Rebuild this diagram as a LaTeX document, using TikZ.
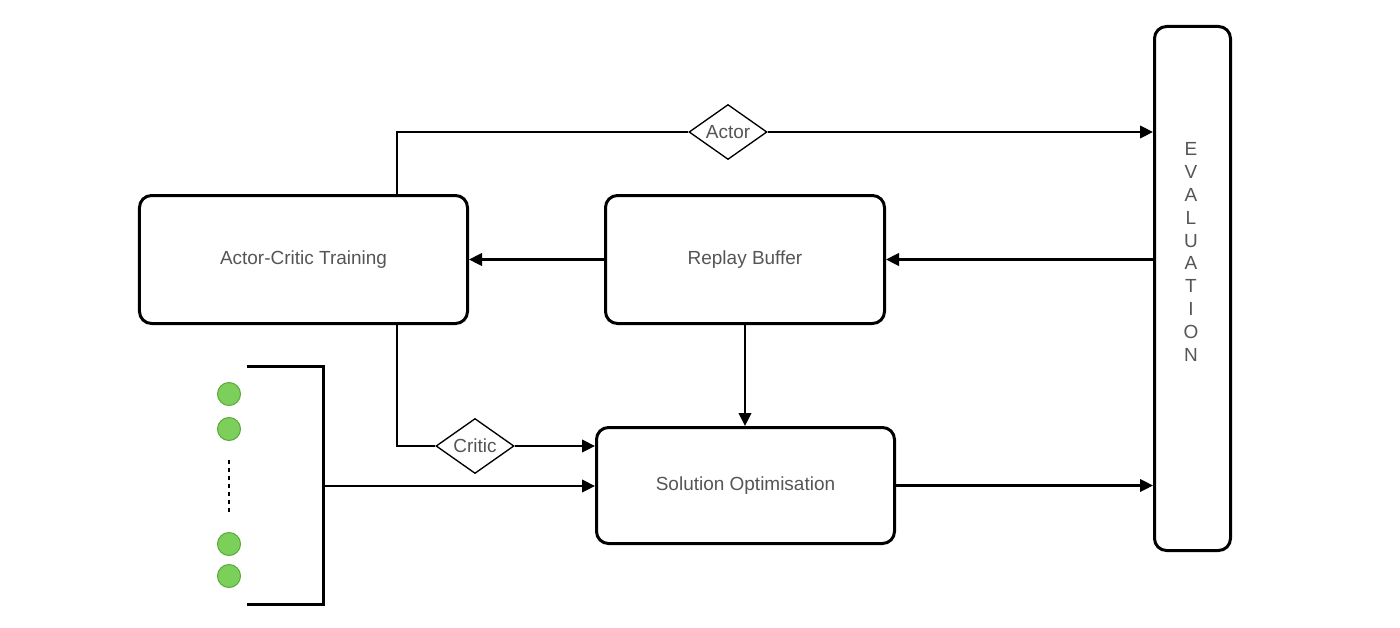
\documentclass[tikz,border=0pt]{standalone}
\usepackage{fontspec}
\setmainfont{Liberation Sans}
\usepackage{xcolor}
\usetikzlibrary{arrows.meta,shapes.geometric}
\definecolor{txtgray}{HTML}{555555}
\definecolor{dotfill}{HTML}{7CCF5A}
\definecolor{dotline}{HTML}{5BA83A}
\tikzset{>={Triangle[length=2.6mm,width=2.5mm]}}
\tikzset{
  block/.style={draw,line width=0.6mm,rounded corners=2.4mm,text=txtgray,
    font=\fontsize{10.8}{13}\selectfont},
  gate/.style={draw,diamond,line width=0.27mm,inner sep=0pt,aspect=1.4,
    minimum width=15.6mm,minimum height=11mm,text=txtgray,fill=white,
    font=\fontsize{10.8}{13}\selectfont},
  flow/.style={line width=0.5mm},
  agent/.style={circle,draw=dotline,fill=dotfill,line width=0.2mm,
    minimum size=4.6mm,inner sep=0pt}
}

\begin{document}
\begin{tikzpicture}[x=0.2mm,y=-0.2mm]
      \useasboundingbox (0,0) rectangle (1400,627);
      % boxes
      \node[block,minimum width=65.6mm,minimum height=25.6mm] at (303.5,259.5) (train) {Actor-Critic Training};
      \node[block,minimum width=55.8mm,minimum height=25.6mm] at (745,259.5) (buffer) {Replay Buffer};
      \node[block,minimum width=59.6mm,minimum height=23.2mm] at (745.5,485.5) (solution) {Solution Optimisation};
      \node[block,minimum width=15.2mm,minimum height=104.8mm] at (1192.5,288.5) (eval) {};
      \node[text=txtgray,align=center,font=\fontsize{10.8}{13}\selectfont] at (1191,252) (evaltext)
        {E\\V\\A\\L\\U\\A\\T\\I\\O\\N};
      \node[gate] at (728,132) (actor) {Actor};
      \node[gate] at (475,446) (critic) {Critic};
      % agents
      \node[agent] at (229,394) (a1) {};
      \node[agent] at (229,429) (a2) {};
      \node[agent] at (229,544) (a3) {};
      \node[agent] at (229,576) (a4) {};
      \draw[line width=0.5mm,dash pattern=on 0.8mm off 0.8mm] (229,460) -- (229,512);
      \coordinate (tap) at (397,259.5);
      \coordinate (brtop) at (247,366);
      \coordinate (brbot) at (247,604);
      \coordinate (brmid) at (323,486);
      \draw[line width=0.6mm] (brtop) -| (brmid) |- (brbot);
      % connections
      \draw[flow] (train.north -| tap) |- (actor.west);
      \draw[flow,->] (actor.east) -- (actor -| eval.west);
      \draw[flow,->] (eval.west |- buffer) -- (buffer.east);
      \draw[flow,->] (buffer.west) -- (train.east);
      \draw[flow,->] (buffer.south) -- (buffer.south |- solution.north);
      \draw[flow] (train.south -| tap) |- (critic.west);
      \draw[flow,->] (critic.east) -- (critic -| solution.west);
      \draw[flow,->] (brmid) -- (brmid -| solution.west);
      \draw[flow,->] (solution.east) -- (solution -| eval.west);
\end{tikzpicture}
\end{document}
